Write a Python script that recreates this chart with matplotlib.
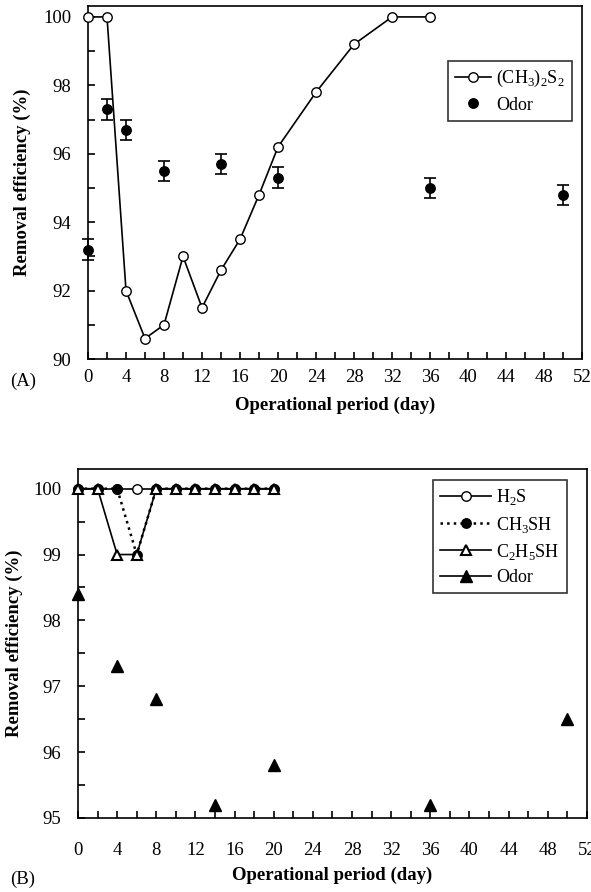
import matplotlib
matplotlib.use('Agg')
import matplotlib.pyplot as plt
from matplotlib.lines import Line2D

plt.rcParams['font.family'] = ['Liberation Serif', 'DejaVu Serif']
plt.rcParams['mathtext.fontset'] = 'custom'
plt.rcParams['mathtext.rm'] = 'Liberation Serif'

# Panel A data
days_dmds = [0, 2, 4, 6, 8, 10, 12, 14, 16, 18, 20, 24, 28, 32, 36]
dmds = [100, 100, 92.0, 90.6, 91.0, 93.0, 91.5, 92.6, 93.5, 94.8, 96.2,
        97.8, 99.2, 100, 100]
days_odor_a = [0, 2, 4, 8, 14, 20, 36, 50]
odor_a = [93.2, 97.3, 96.7, 95.5, 95.7, 95.3, 95.0, 94.8]
odor_a_err = [0.3, 0.3, 0.3, 0.3, 0.3, 0.3, 0.3, 0.3]

# Panel B data
days_b = [0, 2, 4, 6, 8, 10, 12, 14, 16, 18, 20]
h2s = [100, 100, 100, 100, 100, 100, 100, 100, 100, 100, 100]
ch3sh = [100, 100, 100, 99, 100, 100, 100, 100, 100, 100, 100]
c2h5sh = [100, 100, 99, 99, 100, 100, 100, 100, 100, 100, 100]
days_odor_b = [0, 4, 8, 14, 20, 36, 50]
odor_b = [98.4, 97.3, 96.8, 95.2, 95.8, 95.2, 96.5]

xticks = list(range(0, 53, 4))
fs = 13.5
leg_fs = 13
lab_fs = 13.5

fig = plt.figure(figsize=(5.91, 8.92), dpi=100)
ax1 = fig.add_axes([0.1489, 0.5975, 0.836, 0.3958])
ax2 = fig.add_axes([0.132, 0.083, 0.861, 0.3913])


def style_axis(ax, ylim, yticks, yminor, xpad):
    ax.set_xlim(0, 52)
    ax.set_ylim(*ylim)
    ax.set_xticks(xticks)
    ax.set_xticks(range(0, 53, 2), minor=True)
    ax.set_yticks(yticks)
    ax.set_yticks(yminor, minor=True)
    ax.tick_params(axis='both', which='both', direction='in', length=5,
                   width=1.2, labelsize=fs)
    ax.tick_params(axis='x', which='both', pad=xpad)
    ax.tick_params(axis='y', which='both', pad=12)
    for sp in ax.spines.values():
        sp.set_linewidth(1.2)
    ax.set_xlabel('Operational period (day)', fontsize=lab_fs,
                  fontweight='bold')
    ax.set_ylabel('Removal efficiency (%)', fontsize=lab_fs,
                  fontweight='bold')


# Panel A
ax1.plot(days_dmds, dmds, '-o', color='black', mfc='white', mec='black',
         ms=6.8, lw=1.2, clip_on=False, zorder=3,
         label=r'(CH$_3$)$_2$S$_2$')
ax1.errorbar(days_odor_a, odor_a, yerr=odor_a_err, fmt='o', color='black',
             ms=6.8, capsize=4, elinewidth=1.2, capthick=1.2, clip_on=False,
             zorder=4)
style_axis(ax1, (90, 100.32), range(90, 101, 2), range(90, 101, 1), 7)
ax1.xaxis.labelpad = 8
ax1.yaxis.labelpad = 9
h, l = ax1.get_legend_handles_labels()
h.append(Line2D([0], [0], color='black', marker='o', ms=6.8,
                linestyle='none'))
l.append('Odor')
leg1 = ax1.legend(h, l, loc='upper right', bbox_to_anchor=(0.980, 0.844),
                  borderaxespad=0, fontsize=leg_fs, frameon=True,
                  fancybox=False, edgecolor='black', handlelength=2.0,
                  handletextpad=0.3, borderpad=0.4, labelspacing=0.4)
leg1.get_frame().set_linewidth(1.2)
fig.text(0.017, 0.572, '(A)', fontsize=fs, va='center')

# Panel B
ax2.plot(days_b, h2s, '-o', color='black', mfc='white', mec='black',
         ms=6.8, lw=1.2, clip_on=False, zorder=3, label=r'H$_2$S')
ax2.plot(days_b, ch3sh, ':o', color='black', mfc='black', mec='black',
         ms=6.8, lw=1.8, clip_on=False, zorder=4, label=r'CH$_3$SH')
ax2.plot(days_b, c2h5sh, '-^', color='black', mfc='white', mec='black',
         ms=7, lw=1.2, mew=1.5, clip_on=False, zorder=5,
         label=r'C$_2$H$_5$SH')
ax2.plot(days_odor_b, odor_b, '^', color='black', ms=8, linestyle='none',
         clip_on=False, zorder=5)
style_axis(ax2, (95, 100.30), range(95, 101, 1),
           [95, 95.5, 96, 96.5, 97, 97.5, 98, 98.5, 99, 99.5, 100], 17)
ax2.xaxis.labelpad = 6
ax2.yaxis.labelpad = 7
h, l = ax2.get_legend_handles_labels()
h.append(Line2D([0], [0], color='black', marker='^', ms=8, lw=1.2))
l.append('Odor')
leg2 = ax2.legend(h, l, loc='upper right', bbox_to_anchor=(0.961, 0.968),
                  borderaxespad=0, fontsize=leg_fs, frameon=True,
                  fancybox=False, edgecolor='black', handlelength=2.8,
                  handletextpad=0.3, borderpad=0.4, labelspacing=0.4)
leg2.get_frame().set_linewidth(1.2)
fig.text(0.017, 0.014, '(B)', fontsize=fs, va='center')

fig.savefig('out.png', dpi=100)
